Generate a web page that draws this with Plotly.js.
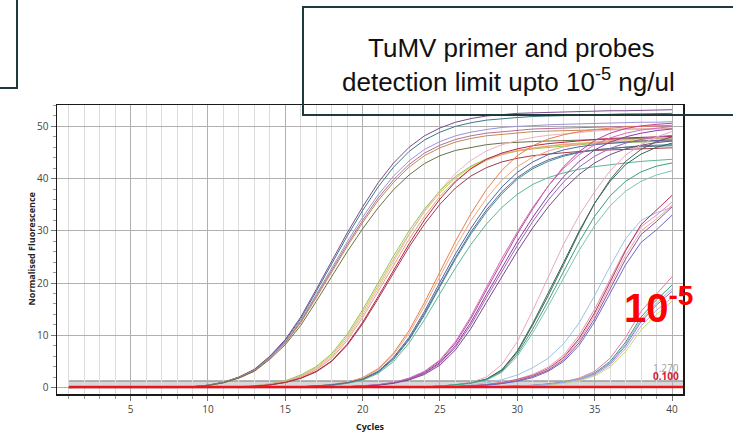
<!DOCTYPE html>
<html>
<head>
<meta charset="utf-8">
<script src="https://cdn.plot.ly/plotly-3.0.1.min.js"></script>
<style>html,body{margin:0;padding:0;background:#fff}#chart{width:733px;height:433px}</style>
</head>
<body>
<div id="chart"></div>
<script>
// Amplification cycles
const cycles = [1,2,3,4,5,6,7,8,9,10,11,12,13,14,15,16,17,18,19,20,21,22,23,24,25,26,27,28,29,30,31,32,33,34,35,36,37,38,39,40];

// Normalised fluorescence (one row per well)
const groupA = [
  [0,0,0,0,0,0,0,0,0.15,0.45,1.0,2.0,3.5,6.0,9.2,13.5,18.8,24.3,29.6,34.6,39.2,43.0,46.0,48.2,49.7,50.8,51.5,52.0,52.3,52.5,52.6,52.7,52.8,52.9,52.9,53.0,53.0,53.1,53.1,53.2],
  [0,0,0,0,0,0,0,0,0.15,0.45,1.0,2.0,3.4,5.9,9.0,13.2,18.4,23.8,29.0,33.9,38.4,42.2,45.2,47.4,48.9,50.0,50.7,51.2,51.5,51.7,51.9,52.0,52.1,52.2,52.3,52.3,52.4,52.4,52.5,52.5],
  [0,0,0,0,0,0,0,0,0.15,0.4,0.95,1.9,3.3,5.8,8.8,12.8,17.8,22.9,27.9,32.6,36.9,40.5,43.4,45.6,47.1,48.2,48.9,49.4,49.8,50.0,50.2,50.3,50.4,50.5,50.6,50.7,50.7,50.8,50.8,50.9],
  [0,0,0,0,0,0,0,0,0.15,0.4,0.95,1.9,3.3,5.7,8.6,12.6,17.5,22.5,27.4,32.0,36.3,39.8,42.7,44.9,46.4,47.5,48.2,48.7,49.0,49.3,49.5,49.6,49.7,49.8,49.9,49.9,50.0,50.0,50.1,50.1],
  [0,0,0,0,0,0,0,0,0.15,0.4,0.9,1.85,3.2,5.6,8.5,12.4,17.2,22.2,27.0,31.6,35.8,39.3,42.2,44.4,45.9,47.0,47.7,48.2,48.5,48.8,49.0,49.1,49.2,49.3,49.4,49.4,49.5,49.5,49.6,49.6],
  [0,0,0,0,0,0,0,0,0.15,0.4,0.9,1.8,3.1,5.4,8.2,11.9,16.5,21.3,26.0,30.4,34.4,37.9,40.7,42.9,44.4,45.4,46.0,46.5,46.8,47.0,47.1,47.2,47.3,47.4,47.5,47.6,47.6,47.7,47.7,47.8]
];
const groupB = [
  [0,0,0,0,0,0,0,0,0,0,0,0.15,0.35,0.7,1.3,2.4,4.0,6.5,10.2,14.9,20.1,25.2,30.0,34.2,37.7,40.4,42.4,43.8,44.7,45.3,45.7,46.0,46.3,46.5,46.7,46.8,46.9,47.0,47.1,47.2],
  [0,0,0,0,0,0,0,0,0,0,0,0.15,0.3,0.65,1.2,2.2,3.8,6.2,9.8,14.4,19.5,24.6,29.4,33.7,37.3,40.1,42.2,43.7,44.7,45.4,45.9,46.3,46.6,46.8,47.0,47.1,47.2,47.3,47.4,47.5],
  [0,0,0,0,0,0,0,0,0,0,0,0.15,0.3,0.6,1.1,2.1,3.6,5.9,9.4,13.9,19.0,24.2,29.2,33.8,37.8,41.0,43.5,45.3,46.5,47.3,47.9,48.3,48.6,48.9,49.1,49.3,49.4,49.5,49.6,49.7],
  [0,0,0,0,0,0,0,0,0,0,0,0.15,0.3,0.6,1.1,2.0,3.4,5.6,9.0,13.4,18.4,23.5,28.4,32.8,36.6,39.6,41.9,43.5,44.6,45.3,45.8,46.2,46.5,46.7,46.9,47.0,47.1,47.2,47.3,47.4],
  [0,0,0,0,0,0,0,0,0,0,0,0.1,0.25,0.5,1.0,1.8,3.1,5.1,8.3,12.5,17.4,22.5,27.5,32.1,36.1,39.4,41.9,43.7,44.9,45.7,46.3,46.7,47.0,47.3,47.5,47.7,47.8,47.9,48.0,48.1],
  [0,0,0,0,0,0,0,0,0,0,0,0.1,0.25,0.5,0.95,1.75,3.0,5.0,8.1,12.2,17.0,22.0,26.9,31.3,35.1,38.2,40.5,42.1,43.2,43.9,44.4,44.7,45.0,45.2,45.4,45.5,45.6,45.7,45.8,45.9]
];
const groupC = [
  [0,0,0,0,0,0,0,0,0,0,0,0,0,0,0,0.15,0.3,0.6,1.0,1.9,3.6,6.6,10.9,16.3,22.2,28.0,33.3,37.9,41.6,44.4,46.3,47.6,48.4,49.0,49.4,49.7,49.9,50.0,50.1,50.2],
  [0,0,0,0,0,0,0,0,0,0,0,0,0,0,0,0.15,0.3,0.55,1.0,1.8,3.4,6.3,10.4,15.6,21.3,26.9,31.9,36.2,39.7,42.3,44.1,45.3,46.1,46.6,47.0,47.3,47.5,47.6,47.7,47.8],
  [0,0,0,0,0,0,0,0,0,0,0,0,0,0,0,0.15,0.3,0.5,0.9,1.6,3.1,5.8,9.6,14.6,20.2,25.6,30.5,34.8,38.4,41.2,43.2,44.6,45.5,46.1,46.5,46.8,47.0,47.2,47.3,47.4],
  [0,0,0,0,0,0,0,0,0,0,0,0,0,0,0,0.1,0.25,0.45,0.85,1.5,2.9,5.4,9.1,13.9,19.3,24.6,29.4,33.6,37.1,39.9,41.9,43.3,44.3,45.0,45.5,45.8,46.1,46.3,46.4,46.5],
  [0,0,0,0,0,0,0,0,0,0,0,0,0,0,0,0.1,0.25,0.45,0.8,1.4,2.7,5.0,8.5,13.0,18.0,22.9,27.4,31.3,34.5,37.0,38.9,40.2,41.1,41.8,42.3,42.7,43.0,43.3,43.5,43.7],
  [0,0,0,0,0,0,0,0,0,0,0,0,0,0,0,0.1,0.3,0.5,0.9,1.6,3.0,5.6,9.3,14.2,19.6,24.9,29.8,34.0,37.5,40.2,42.2,43.6,44.5,45.1,45.5,45.8,46.0,46.1,46.2,46.3]
];
const groupD = [
  [0,0,0,0,0,0,0,0,0,0,0,0,0,0,0,0,0,0,0.15,0.3,0.5,0.9,1.7,3.0,5.1,8.5,13.2,18.7,24.2,29.4,34.2,38.6,42.3,45.2,47.3,48.7,49.6,50.1,50.4,50.6],
  [0,0,0,0,0,0,0,0,0,0,0,0,0,0,0,0,0,0,0.15,0.3,0.5,0.9,1.6,2.8,4.8,8.0,12.5,17.8,23.0,28.0,32.6,36.8,40.4,43.3,45.5,47.0,48.0,48.7,49.2,49.5],
  [0,0,0,0,0,0,0,0,0,0,0,0,0,0,0,0,0,0,0.15,0.3,0.5,0.9,1.6,2.7,4.6,7.7,12.0,17.2,22.3,27.2,31.8,35.9,39.4,42.2,44.3,45.8,46.8,47.5,48.0,48.3],
  [0,0,0,0,0,0,0,0,0,0,0,0,0,0,0,0,0,0,0.15,0.3,0.55,1.0,1.8,3.1,5.3,8.8,13.6,19.2,24.7,29.8,34.5,38.6,42.0,44.6,46.5,47.8,48.7,49.3,49.7,50.0],
  [0,0,0,0,0,0,0,0,0,0,0,0,0,0,0,0,0,0,0.1,0.25,0.45,0.8,1.45,2.5,4.3,7.2,11.3,16.3,21.3,26.1,30.6,34.6,38.0,40.8,43.0,44.6,45.7,46.4,46.9,47.2]
];
const groupE = [
  [0,0,0,0,0,0,0,0,0,0,0,0,0,0,0,0,0,0,0,0,0,0,0,0.1,0.3,0.5,0.9,1.6,3.4,7.0,12.3,18.0,24.0,30.0,35.3,39.5,42.7,44.7,46.0,46.8],
  [0,0,0,0,0,0,0,0,0,0,0,0,0,0,0,0,0,0,0,0,0,0,0,0.1,0.3,0.5,0.9,1.6,3.3,6.8,12.0,17.6,23.6,29.7,35.3,39.8,43.3,45.6,47.1,48.0],
  [0,0,0,0,0,0,0,0,0,0,0,0,0,0,0,0,0,0,0,0,0,0,0,0.1,0.3,0.55,1.0,2.0,4.4,8.8,14.8,21.0,27.5,33.0,37.5,41.5,44.5,46.5,48.0,49.0],
  [0,0,0,0,0,0,0,0,0,0,0,0,0,0,0,0,0,0,0,0,0,0,0,0.1,0.25,0.45,0.8,1.4,2.9,6.0,10.5,15.6,21.0,26.3,31.0,34.8,37.6,39.5,40.7,41.5],
  [0,0,0,0,0,0,0,0,0,0,0,0,0,0,0,0,0,0,0,0,0,0,0,0.1,0.25,0.5,0.85,1.5,3.1,6.4,11.2,16.6,22.3,27.9,32.8,36.7,39.5,41.3,42.4,43.0]
];
const groupF = [
  [0,0,0,0,0,0,0,0,0,0,0,0,0,0,0,0,0,0,0,0,0,0,0,0,0,0.3,0.5,0.9,1.5,2.4,3.8,5.6,8.4,12.4,17.6,23.2,28.5,32.0,33.5,34.5],
  [0,0,0,0,0,0,0,0,0,0,0,0,0,0,0,0,0,0,0,0,0,0,0,0,0,0.2,0.35,0.6,1.0,1.6,2.5,3.9,6.2,10.0,15.0,20.8,26.5,30.8,33.0,35.5],
  [0,0,0,0,0,0,0,0,0,0,0,0,0,0,0,0,0,0,0,0,0,0,0,0,0,0.2,0.3,0.55,0.9,1.5,2.3,3.6,5.8,9.4,14.3,20.2,26.2,31.2,34.0,36.8],
  [0,0,0,0,0,0,0,0,0,0,0,0,0,0,0,0,0,0,0,0,0,0,0,0,0,0.15,0.3,0.5,0.85,1.4,2.2,3.5,5.6,9.0,13.8,19.5,25.3,30.0,32.3,34.9],
  [0,0,0,0,0,0,0,0,0,0,0,0,0,0,0,0,0,0,0,0,0,0,0,0,0,0.15,0.3,0.5,0.8,1.3,2.1,3.3,5.3,8.6,13.2,18.8,24.6,29.3,31.8,34.6],
  [0,0,0,0,0,0,0,0,0,0,0,0,0,0,0,0,0,0,0,0,0,0,0,0,0,0.15,0.25,0.45,0.75,1.2,1.9,3.1,5.0,8.1,12.6,18.0,23.5,27.8,30.2,33.0]
];
const groupG = [
  [0,0,0,0,0,0,0,0,0,0,0,0,0,0,0,0,0,0,0,0,0,0,0,0,0,0,0,0,0.2,0.3,0.45,0.7,1.1,1.8,3.1,5.6,9.6,14.6,18.0,21.2],
  [0,0,0,0,0,0,0,0,0,0,0,0,0,0,0,0,0,0,0,0,0,0,0,0,0,0,0,0,0.15,0.25,0.4,0.65,1.0,1.6,2.8,5.0,8.7,13.5,16.8,19.6],
  [0,0,0,0,0,0,0,0,0,0,0,0,0,0,0,0,0,0,0,0,0,0,0,0,0,0,0,0,0.15,0.25,0.4,0.6,0.95,1.5,2.6,4.6,8.0,12.6,15.8,18.4],
  [0,0,0,0,0,0,0,0,0,0,0,0,0,0,0,0,0,0,0,0,0,0,0,0,0,0,0,0,0.1,0.2,0.35,0.55,0.9,1.4,2.4,4.3,7.5,11.8,14.8,17.2],
  [0,0,0,0,0,0,0,0,0,0,0,0,0,0,0,0,0,0,0,0,0,0,0,0,0,0,0,0,0.1,0.2,0.3,0.5,0.8,1.3,2.2,3.9,6.9,11.0,14.0,16.5],
  [0,0,0,0,0,0,0,0,0,0,0,0,0,0,0,0,0,0,0,0,0,0,0,0,0,0,0,0,0.15,0.25,0.4,0.6,1.0,1.6,2.7,4.8,8.3,13.0,16.2,18.9]
];

// Thresholds
const thresholdValues = [1.27, 0.1];
const thresholdLabels = ['1.270', '0.100'];

// Tick labels
const xTickLabels = ['5','10','15','20','25','30','35','40'];
const yTickLabels = ['0','10','20','30','40','50'];

// Styles
const colorsA = ['#7b4a8e','#3b7a7e','#9b93d6','#b07098','#c4894e','#6b7044'];
const colorsB = ['#8cc65a','#d6c64a','#eab4c4','#f0a07a','#b5234d','#a33a48'];
const colorsC = ['#e8804a','#f0a878','#4a68a8','#3e8c9a','#5ab88e','#5a6a92'];
const colorsD = ['#c2409c','#8a3fa0','#a060c0','#d070b8','#7a4a82'];
const colorsE = ['#2d6a58','#555f5f','#eaa8bc','#7cc4b4','#3aa07e'];
const colorsF = ['#9cc4e8','#e890b8','#b0305a','#f0a8a0','#9050a8','#6a6ac8'];
const colorsG = ['#e878a8','#3a9a70','#9070c8','#b8a8e8','#c8d878','#8ab8e0'];

const groups = [[groupA,colorsA],[groupB,colorsB],[groupC,colorsC],[groupD,colorsD],[groupE,colorsE],[groupF,colorsF],[groupG,colorsG]];
const traces = [];
groups.forEach(([rows, cols]) => {
  rows.forEach((vals, i) => {
    traces.push({x: cycles, y: vals, type: 'scatter', mode: 'lines',
      line: {color: cols[i % cols.length], width: 1}, hoverinfo: 'skip'});
  });
});

const L = 57, R = 683, T = 105, B = 394;
const px = v => (v - L) / (R - L);
const py = v => (B - v) / (B - T);

const layout = {
  width: 733, height: 433,
  margin: {l: 57, r: 50, t: 105, b: 39, pad: 0},
  paper_bgcolor: '#ffffff', plot_bgcolor: '#ffffff',
  showlegend: false,
  font: {family: '"Open Sans", "DejaVu Sans", sans-serif', size: 10, color: '#444'},
  xaxis: {
    range: [0.24, 40.71], tickmode: 'array',
    tickvals: xTickLabels.map(Number), ticktext: xTickLabels,
    ticks: 'outside', ticklen: 5, tickcolor: '#777', tickwidth: 1,
    showgrid: true, gridcolor: '#b0b0b0', gridwidth: 1,
    minor: {dtick: 1, tick0: 0, showgrid: true, gridcolor: '#dcdcdc', gridwidth: 1, ticks: 'outside', ticklen: 3, tickcolor: '#999'},
    showline: true, linecolor: '#1a1a1a', linewidth: 1.5, mirror: true, zeroline: false,
    tickfont: {size: 10, color: '#444'}, fixedrange: true
  },
  yaxis: {
    range: [-1.24, 54.1], tickmode: 'array',
    tickvals: yTickLabels.map(Number), ticktext: yTickLabels,
    ticks: 'outside', ticklen: 5, tickcolor: '#777', tickwidth: 1,
    showgrid: true, gridcolor: '#b0b0b0', gridwidth: 1,
    minor: {dtick: 2, tick0: 0, showgrid: false, ticks: 'outside', ticklen: 3, tickcolor: '#999'},
    showline: true, linecolor: '#1a1a1a', linewidth: 1.5, mirror: true, zeroline: false,
    tickfont: {size: 10, color: '#444'}, fixedrange: true
  },
  shapes: [
    {type: 'rect', xref: 'x', yref: 'y', x0: 1, x1: 40.71, y0: thresholdValues[1], y1: thresholdValues[0],
     fillcolor: '#d8d8d8', line: {width: 0}, layer: 'below'},
    {type: 'line', xref: 'x', yref: 'y', x0: 1, x1: 40.71, y0: thresholdValues[0], y1: thresholdValues[0],
     line: {color: '#9c9c9c', width: 1.5}, layer: 'below'},
    {type: 'line', xref: 'x', yref: 'y', x0: 1, x1: 40.71, y0: thresholdValues[1], y1: thresholdValues[1],
     line: {color: '#e8141e', width: 2.5}, layer: 'above'},
    {type: 'rect', xref: 'paper', yref: 'paper', x0: px(-20), x1: px(17), y0: py(88), y1: py(-20),
     line: {color: '#1f3a3a', width: 2}, fillcolor: 'rgba(0,0,0,0)', layer: 'above'},
    {type: 'rect', xref: 'paper', yref: 'paper', x0: px(303), x1: px(760), y0: py(115), y1: py(7),
     line: {color: '#1f3a3a', width: 2}, fillcolor: 'rgba(0,0,0,0)', layer: 'above'}
  ],
  annotations: [
    {xref: 'paper', yref: 'paper', x: px(512), y: py(48), xanchor: 'center', yanchor: 'middle', showarrow: false,
     text: 'TuMV primer and probes', font: {family: '"Liberation Sans", Arial, sans-serif', size: 26, color: '#111'}},
    {xref: 'paper', yref: 'paper', x: px(508), y: py(80), xanchor: 'center', yanchor: 'middle', showarrow: false,
     text: 'detection limit upto 10<sup>-5</sup> ng/ul', font: {family: '"Liberation Sans", Arial, sans-serif', size: 26, color: '#111'}},
    {xref: 'paper', yref: 'paper', x: px(622), y: py(305), xanchor: 'left', yanchor: 'middle', showarrow: false,
     text: '<b>10<sup>-5</sup></b>', font: {family: '"Liberation Sans", Arial, sans-serif', size: 40, color: '#ff0000'}},
    {xref: 'paper', yref: 'y', x: px(681), y: 3.8, xanchor: 'right', yanchor: 'middle', showarrow: false,
     text: thresholdLabels[0], font: {size: 10, color: '#a0a0a0'}},
    {xref: 'paper', yref: 'y', x: px(681), y: 2.3, xanchor: 'right', yanchor: 'middle', showarrow: false,
     text: '<b>' + thresholdLabels[1] + '</b>', font: {size: 10, color: '#d0203a'}},
    {xref: 'paper', yref: 'paper', x: px(31), y: 0.5, xanchor: 'center', yanchor: 'middle', showarrow: false, textangle: -90,
     text: '<b>Normalised Fluorescence</b>', font: {size: 9, color: '#222'}},
    {xref: 'paper', yref: 'paper', x: 0.5, y: py(426), xanchor: 'center', yanchor: 'middle', showarrow: false,
     text: '<b>Cycles</b>', font: {size: 9, color: '#222'}}
  ]
};

Plotly.newPlot('chart', traces, layout, {displayModeBar: false, staticPlot: true});
</script>
</body>
</html>
